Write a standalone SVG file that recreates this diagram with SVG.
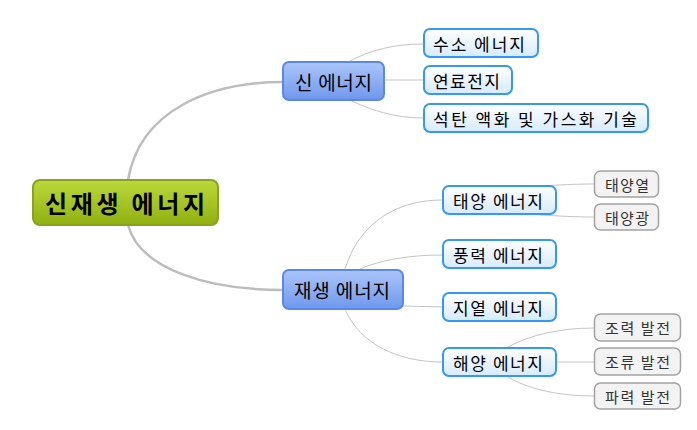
<svg xmlns="http://www.w3.org/2000/svg" width="697" height="430" viewBox="0 0 697 430">
<defs>
<linearGradient id="gRoot" x1="0" y1="0" x2="0" y2="1"><stop offset="0" stop-color="#bcd83a"/><stop offset="1" stop-color="#90b112"/></linearGradient>
<linearGradient id="gMain" x1="0" y1="0" x2="0" y2="1"><stop offset="0" stop-color="#acc6fb"/><stop offset="1" stop-color="#6f97ec"/></linearGradient>
<linearGradient id="gSub" x1="0" y1="0" x2="0" y2="1"><stop offset="0" stop-color="#ffffff"/><stop offset="1" stop-color="#d6eafd"/></linearGradient>
<style>
text{font-family:"Noto Sans CJK KR","Noto Sans",sans-serif;fill:#000;dominant-baseline:central}
.root rect{fill:url(#gRoot);stroke:#8ba31c;stroke-width:2}
.root text{font-size:24px;font-weight:bold}
.main rect{fill:url(#gMain);stroke:#5a88e4;stroke-width:2}
.main text{font-size:19px}
.sub rect{fill:url(#gSub);stroke:#3399f3;stroke-width:2}
.sub text{font-size:17px}
.leaf rect{fill:#f3f3f3;stroke:#a2a2a2;stroke-width:1.5}
.leaf text{font-size:15px;fill:#333}
.thick{fill:none;stroke:#bdbdbd;stroke-width:2.5}
.thin{fill:none;stroke:#c4c4c4;stroke-width:1}
</style>
</defs>
<g id="connectors">
<path class="thick" d="M128,180 C140,110 210,82 283,82"/>
<path class="thick" d="M128,225 C140,270 210,290 283,290"/>
<path class="thin" d="M350,61 C370,50 395,44 423,44"/>
<path class="thin" d="M384,80 L423,80"/>
<path class="thin" d="M350,100 C370,110 395,118 423,118"/>
<path class="thin" d="M345,269 C360,220 400,200 442,200"/>
<path class="thin" d="M360,269 C380,260 410,255 442,255"/>
<path class="thin" d="M403,306 L442,307"/>
<path class="thin" d="M345,309 C360,345 400,362 442,362"/>
<path class="thin" d="M540,186 C560,185 575,184 594,184"/>
<path class="thin" d="M540,215 C560,216 575,217 594,217"/>
<path class="thin" d="M508,347 C530,335 560,328 594,328"/>
<path class="thin" d="M556,362 L594,362"/>
<path class="thin" d="M508,377 C530,390 560,396 594,396"/>
</g>
<g id="root" class="root"><rect x="33" y="180" width="185" height="45" rx="7"/><text x="45" y="202.5" textLength="160" lengthAdjust="spacing">신재생 에너지</text></g>
<g id="n-new" class="main"><rect x="283" y="62" width="101" height="38" rx="6"/><text x="295" y="81" textLength="77" lengthAdjust="spacing">신 에너지</text></g>
<g id="n-renew" class="main"><rect x="283" y="270" width="120" height="39" rx="6"/><text x="294" y="289.5" textLength="96" lengthAdjust="spacing">재생 에너지</text></g>
<g id="n-hydrogen" class="sub"><rect x="424" y="29" width="114" height="28" rx="6"/><text x="433" y="43" textLength="92" lengthAdjust="spacing">수소 에너지</text></g>
<g id="n-fuelcell" class="sub"><rect x="424" y="66" width="88" height="28" rx="6"/><text x="433" y="80" textLength="67" lengthAdjust="spacing">연료전지</text></g>
<g id="n-coal" class="sub"><rect x="424" y="104" width="224" height="28" rx="6"/><text x="433" y="118" textLength="204" lengthAdjust="spacing">석탄 액화 및 가스화 기술</text></g>
<g id="n-solar" class="sub"><rect x="443" y="186" width="113" height="28" rx="6"/><text x="453" y="200" textLength="90" lengthAdjust="spacing">태양 에너지</text></g>
<g id="n-wind" class="sub"><rect x="443" y="240" width="113" height="28" rx="6"/><text x="453" y="254" textLength="90" lengthAdjust="spacing">풍력 에너지</text></g>
<g id="n-geo" class="sub"><rect x="443" y="293" width="113" height="28" rx="6"/><text x="453" y="307" textLength="90" lengthAdjust="spacing">지열 에너지</text></g>
<g id="n-ocean" class="sub"><rect x="443" y="348" width="113" height="28" rx="6"/><text x="453" y="362" textLength="90" lengthAdjust="spacing">해양 에너지</text></g>
<g id="n-solarheat" class="leaf"><rect x="594.5" y="171" width="64" height="26" rx="6"/><text x="605" y="184" textLength="44" lengthAdjust="spacing">태양열</text></g>
<g id="n-solarlight" class="leaf"><rect x="594.5" y="204" width="64" height="26" rx="6"/><text x="605" y="217" textLength="44" lengthAdjust="spacing">태양광</text></g>
<g id="n-tidal" class="leaf"><rect x="594.5" y="314" width="86" height="27" rx="6"/><text x="605" y="327.5" textLength="65" lengthAdjust="spacing">조력 발전</text></g>
<g id="n-current" class="leaf"><rect x="594.5" y="348" width="86" height="27" rx="6"/><text x="605" y="361.5" textLength="65" lengthAdjust="spacing">조류 발전</text></g>
<g id="n-wave" class="leaf"><rect x="594.5" y="383" width="86" height="26" rx="6"/><text x="605" y="396" textLength="65" lengthAdjust="spacing">파력 발전</text></g>
</svg>
